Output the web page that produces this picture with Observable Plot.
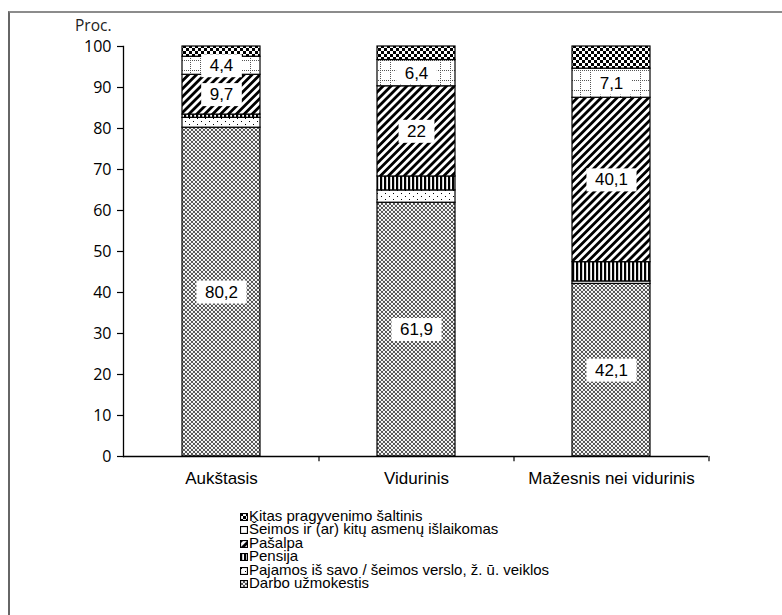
<!DOCTYPE html>
<html>
<head>
<meta charset="utf-8">
<script src="https://cdn.jsdelivr.net/npm/d3@7"></script>
<script src="https://cdn.jsdelivr.net/npm/@observablehq/plot@0.6"></script>
<style>
  body { margin: 0; background: #fff; width: 782px; height: 615px; position: relative; overflow: hidden;
         font-family: "Liberation Sans", Arial, sans-serif; }
  #chart { position: absolute; left: 0; top: 0; }
  #frame { position: absolute; left: 8px; top: 11px; right: -5px; bottom: -5px;
           border-top: 2px solid #8c8c8c; border-left: 2px solid #666; pointer-events: none; }
  #proc { position: absolute; left: 75px; top: 17px; font-family: "Open Sans", sans-serif;
          font-size: 15.5px; line-height: 16px; color: #222; }
  #legend { position: absolute; left: 240px; top: 509px; font-size: 15px; line-height: 13.4px; color: #000; }
  #legend div { white-space: nowrap; height: 13.4px; }
  #legend svg { vertical-align: baseline; margin-right: 1px; }
</style>
</head>
<body>
<div id="chart"></div>
<div id="proc">Proc.</div>
<div id="legend"></div>
<div id="frame"></div>
<script>
// ---- data ----
const categories = ["Aukštasis", "Vidurinis", "Mažesnis nei vidurinis"];
const series = [
  "Darbo užmokestis",
  "Pajamos iš savo / šeimos verslo, ž. ū. veiklos",
  "Pensija",
  "Pašalpa",
  "Šeimos ir (ar) kitų asmenų išlaikomas",
  "Kitas pragyvenimo šaltinis"
];
const darbo   = [80.2, 61.9, 42.1];
const pajamos = [2.4, 3.0, 0.6];
const pensija = [0.8, 3.4, 4.7];
const pasalpa = [9.7, 22, 40.1];
const seimos  = [4.4, 6.4, 7.1];
const kitas   = [2.5, 3.3, 5.4];
const labelled = [true, false, false, true, true, false];
const yTicks = [0, 10, 20, 30, 40, 50, 60, 70, 80, 90, 100];

const values = [darbo, pajamos, pensija, pasalpa, seimos, kitas];

// stacked rows (bottom to top in series order)
const rows = [];
categories.forEach((cat, ci) => {
  let acc = 0;
  series.forEach((s, si) => {
    const v = values[si][ci];
    rows.push({cat, series: s, si, value: v, y1: acc, y2: acc + v, mid: acc + v / 2});
    acc += v;
  });
});
const labelRows = rows.filter(r => labelled[r.si]);
const fmt = v => String(v).replace(".", ",");

// ---- layout ----
const W = 782, H = 500, ML = 123, MR = 74, MT = 46, MB = 44;
const step = (W - ML - MR) / categories.length;

const chart = Plot.plot({
  width: W, height: H,
  marginLeft: ML, marginRight: MR, marginTop: MT, marginBottom: MB,
  style: {background: "transparent", fontFamily: "'Liberation Sans', Arial, sans-serif", color: "#000", overflow: "visible"},
  x: {domain: categories, paddingInner: 0.6, paddingOuter: 0.3},
  y: {domain: [0, 100]},
  color: {domain: series, range: series.map((s, i) => `url(#pat${i})`)},
  marks: [
    Plot.barY(rows, {x: "cat", y1: "y1", y2: "y2", fill: "series", stroke: "#000", strokeWidth: 1.2}),
    Plot.ruleY([0], {stroke: "#000", strokeWidth: 1.3}),
    Plot.frame({anchor: "left", stroke: "#000", strokeWidth: 1.3}),
    Plot.ruleX(categories, {x: d => d, dx: step / 2, y1: 0, y2: -1.3, stroke: "#000", strokeWidth: 1.2}),
    Plot.axisY(yTicks, {tickSize: 6, tickPadding: 6, fontSize: 16, fontFamily: "'Open Sans', sans-serif", label: null, strokeWidth: 1.2}),
    Plot.axisX({tickSize: 0, tickPadding: 15, fontSize: 17, label: null}),
    Plot.text(labelRows, {x: "cat", y: "mid", text: d => fmt(d.value), fontSize: 17, fill: "#000"})
  ]
});

// patterns
const ns = "http://www.w3.org/2000/svg";
const defs = document.createElementNS(ns, "defs");
defs.innerHTML = `
  <pattern id="pat0" patternUnits="userSpaceOnUse" width="4" height="4">
    <rect width="4" height="4" fill="#444"/>
    <circle cx="2" cy="2" r="1.15" fill="#fff"/>
    <circle cx="0" cy="0" r="1.15" fill="#fff"/><circle cx="4" cy="0" r="1.15" fill="#fff"/>
    <circle cx="0" cy="4" r="1.15" fill="#fff"/><circle cx="4" cy="4" r="1.15" fill="#fff"/>
  </pattern>
  <pattern id="pat1" patternUnits="userSpaceOnUse" width="8" height="6">
    <rect width="8" height="6" fill="#fff"/>
    <rect x="1" y="1" width="1" height="1" fill="#000"/>
    <rect x="5" y="4" width="1" height="1" fill="#000"/>
  </pattern>
  <pattern id="pat2" patternUnits="userSpaceOnUse" width="4" height="4">
    <rect width="4" height="4" fill="#fff"/>
    <rect x="0" y="0" width="2.2" height="4" fill="#000"/>
  </pattern>
  <pattern id="pat3" patternUnits="userSpaceOnUse" width="5.6" height="5.6" patternTransform="rotate(45)">
    <rect width="5.6" height="5.6" fill="#fff"/>
    <rect x="0" y="0" width="2.8" height="5.6" fill="#000"/>
  </pattern>
  <pattern id="pat4" patternUnits="userSpaceOnUse" width="10" height="10">
    <rect width="10" height="10" fill="#fff"/>
    <rect x="0" y="0" width="1" height="1" fill="#555"/><rect x="2" y="0" width="1" height="1" fill="#555"/>
    <rect x="4" y="0" width="1" height="1" fill="#555"/><rect x="6" y="0" width="1" height="1" fill="#555"/>
    <rect x="8" y="0" width="1" height="1" fill="#555"/>
    <rect x="0" y="2" width="1" height="1" fill="#555"/><rect x="0" y="4" width="1" height="1" fill="#555"/>
    <rect x="0" y="6" width="1" height="1" fill="#555"/><rect x="0" y="8" width="1" height="1" fill="#555"/>
  </pattern>
  <pattern id="pat5" patternUnits="userSpaceOnUse" width="6" height="6">
    <rect width="6" height="6" fill="#fff"/>
    <rect x="0" y="0" width="3" height="3" fill="#000"/>
    <rect x="3" y="3" width="3" height="3" fill="#000"/>
  </pattern>`;
chart.insertBefore(defs, chart.firstChild);

document.getElementById("chart").append(chart);

// white boxes behind value labels (the only plain "text" mark group)
chart.querySelectorAll('g[aria-label="text"] text').forEach(t => {
  const b = t.getBBox();
  const r = document.createElementNS(ns, "rect");
  r.setAttribute("x", b.x - 8.5);
  r.setAttribute("y", b.y + b.height / 2 - 11.5);
  r.setAttribute("width", b.width + 17);
  r.setAttribute("height", 23);
  r.setAttribute("fill", "#fff");
  r.setAttribute("stroke", "none");
  if (t.getAttribute("transform")) r.setAttribute("transform", t.getAttribute("transform"));
  t.parentNode.insertBefore(r, t);
});

// legend (top to bottom = reverse of stacking order)
const legend = document.getElementById("legend");
series.slice().reverse().forEach(s => {
  const i = series.indexOf(s);
  const div = document.createElement("div");
  div.innerHTML = `<svg width="8" height="8"><rect x="0.5" y="0.5" width="7" height="7" fill="url(#pat${i})" stroke="#000" stroke-width="1.2"/></svg>${s}`;
  legend.append(div);
});
</script>
</body>
</html>
